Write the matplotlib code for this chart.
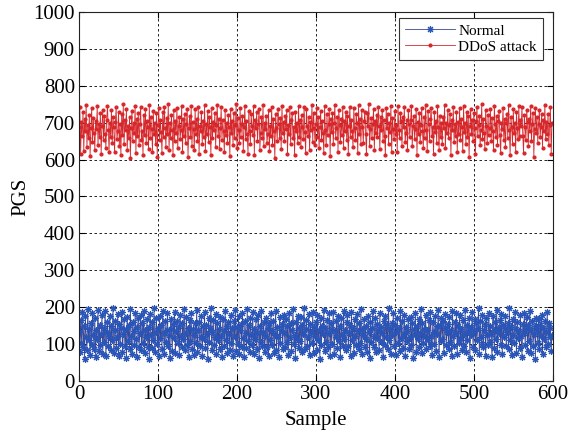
import numpy as np
import matplotlib
matplotlib.use("Agg")
import matplotlib.pyplot as plt

plt.rcParams["font.family"] = ["Liberation Serif", "DejaVu Serif"]

# PGS per sample (estimated)
normal = [
    132, 78, 165, 104, 187, 92, 148, 61, 175, 120, 83, 196, 110, 142, 70, 158, 99, 183, 126, 88,
    171, 64, 139, 115, 192, 81, 153, 97, 128, 178, 73, 145, 106, 189, 67, 134, 160, 94, 121, 176,
    85, 149, 112, 198, 76, 137, 163, 90, 118, 181, 69, 155, 101, 143, 186, 79, 127, 168, 95, 140,
    62, 174, 108, 151, 87, 194, 123, 72, 161, 135, 98, 184, 114, 66, 147, 170, 91, 130, 179, 84,
    156, 103, 190, 75, 138, 119, 167, 93, 146, 60, 182, 125, 89, 159, 111, 197, 80, 133, 172, 100,
    144, 68, 177, 116, 152, 86, 191, 129, 74, 162, 107, 139, 185, 96, 124, 63, 169, 141, 82, 154,
    117, 188, 77, 136, 164, 102, 150, 71, 180, 122, 92, 157, 113, 195, 84, 131, 173, 97, 145, 65,
    166, 109, 183, 88, 142, 126, 70, 158, 104, 193, 79, 137, 161, 94, 120, 176, 67, 148, 115, 186,
    90, 153, 128, 61, 171, 106, 144, 199, 83, 132, 165, 99, 118, 181, 73, 156, 110, 140, 87, 174,
    121, 64, 168, 135, 96, 189, 112, 150, 76, 160, 127, 85, 178, 103, 143, 69, 162, 119, 192, 81,
    147, 101, 175, 72, 138, 155, 93, 184, 116, 66, 163, 130, 89, 196, 108, 152, 78, 170, 124, 98,
    186, 74, 141, 114, 167, 86, 129, 179, 62, 149, 105, 191, 95, 134, 159, 80, 122, 172, 91, 145,
    68, 157, 111, 183, 99, 136, 164, 77, 125, 190, 84, 146, 118, 65, 173, 102, 139, 154, 88, 180,
    131, 93, 169, 107, 148, 71, 185, 120, 158, 82, 137, 195, 100, 126, 63, 161, 113, 177, 90, 143,
    109, 174, 79, 152, 128, 197, 87, 140, 166, 96, 119, 182, 70, 155, 133, 104, 188, 75, 147, 123,
    160, 85, 178, 112, 139, 61, 171, 97, 150, 127, 193, 81, 144, 106, 165, 92, 130, 184, 67, 156,
    101, 142, 187, 73, 135, 118, 162, 89, 176, 108, 148, 64, 170, 124, 94, 191, 115, 138, 83, 159,
    179, 95, 131, 153, 69, 186, 110, 145, 77, 167, 121, 98, 181, 136, 86, 157, 103, 194, 72, 141,
    126, 168, 91, 149, 114, 80, 175, 132, 62, 160, 105, 143, 189, 93, 122, 171, 78, 154, 117, 137,
    84, 183, 107, 146, 130, 66, 164, 99, 177, 119, 151, 88, 198, 111, 140, 74, 158, 125, 185, 96,
    152, 71, 134, 172, 102, 145, 82, 190, 116, 163, 90, 128, 179, 68, 147, 109, 136, 167, 86, 120,
    173, 97, 158, 63, 141, 125, 184, 79, 150, 113, 169, 92, 131, 196, 75, 156, 104, 142, 118, 180,
    88, 139, 112, 166, 95, 187, 123, 70, 161, 134, 100, 176, 81, 148, 127, 192, 65, 153, 108, 170,
    115, 162, 76, 144, 181, 98, 132, 155, 87, 174, 106, 138, 67, 189, 121, 94, 159, 129, 183, 73,
    149, 103, 178, 117, 140, 85, 165, 96, 128, 193, 78, 151, 112, 135, 170, 62, 146, 124, 188, 91,
    136, 168, 83, 157, 110, 145, 199, 74, 163, 119, 101, 180, 93, 139, 154, 69, 172, 126, 97, 185,
    107, 150, 127, 64, 175, 138, 89, 161, 114, 192, 80, 143, 131, 166, 99, 182, 72, 152, 120, 144,
    176, 94, 133, 158, 86, 197, 111, 147, 71, 169, 124, 102, 186, 140, 77, 160, 116, 135, 90, 178,
    122, 65, 155, 130, 184, 98, 142, 173, 82, 151, 109, 190, 76, 137, 164, 95, 128, 148, 61, 171,
    139, 104, 167, 88, 152, 121, 179, 73, 145, 115, 162, 93, 134, 187, 100, 157, 118, 143, 81, 126,
]

ddos = [
    688, 742, 615, 701, 664, 730, 623, 709, 676, 748, 634, 693, 657, 721, 610, 684, 739, 648, 712, 671,
    627, 705, 683, 744, 640, 697, 662, 726, 614, 690, 735, 653, 718, 669, 631, 708, 746, 679, 621, 699,
    660, 733, 645, 714, 687, 619, 702, 741, 655, 676, 728, 636, 695, 611, 723, 667, 749, 642, 706, 681,
    738, 625, 692, 659, 716, 604, 685, 731, 650, 700, 673, 744, 617, 711, 663, 727, 638, 696, 742, 654,
    678, 613, 720, 666, 737, 646, 703, 689, 629, 747, 658, 714, 683, 621, 732, 670, 698, 641, 725, 608,
    694, 739, 652, 707, 675, 618, 729, 661, 743, 686, 635, 712, 668, 749, 626, 699, 657, 720, 680, 612,
    733, 649, 704, 672, 740, 630, 691, 715, 656, 679, 746, 620, 709, 663, 724, 644, 697, 737, 607, 686,
    718, 661, 745, 637, 701, 683, 626, 736, 668, 710, 651, 742, 615, 692, 677, 729, 643, 705, 660, 747,
    624, 695, 670, 732, 647, 716, 689, 611, 740, 658, 702, 681, 725, 635, 693, 748, 664, 711, 629, 684,
    741, 653, 707, 676, 619, 734, 666, 698, 645, 721, 687, 609, 738, 672, 705, 640, 727, 659, 694, 750,
    631, 712, 680, 646, 739, 662, 697, 717, 623, 688, 745, 655, 703, 670, 616, 731, 678, 643, 722, 690,
    667, 744, 613, 706, 684, 728, 650, 695, 738, 627, 673, 714, 658, 748, 637, 700, 682, 719, 645, 669,
    735, 622, 691, 665, 742, 638, 710, 677, 603, 724, 686, 651, 737, 696, 659, 713, 628, 746, 671, 701,
    649, 718, 683, 733, 615, 694, 668, 741, 641, 707, 725, 657, 688, 612, 730, 676, 699, 644, 745, 662,
    708, 634, 720, 689, 656, 743, 674, 617, 736, 692, 663, 714, 625, 702, 679, 748, 648, 727, 685, 639,
    697, 740, 660, 715, 630, 687, 732, 653, 705, 671, 618, 744, 681, 639, 722, 666, 695, 737, 610, 709,
    675, 726, 642, 700, 748, 659, 684, 716, 621, 735, 693, 647, 710, 667, 741, 632, 703, 678, 729, 654,
    719, 614, 690, 742, 662, 706, 677, 633, 739, 685, 652, 723, 698, 617, 747, 670, 711, 643, 734, 689,
    645, 703, 730, 668, 614, 725, 691, 749, 636, 682, 713, 658, 697, 738, 626, 705, 673, 720, 661, 743,
    692, 628, 716, 679, 735, 650, 708, 664, 611, 740, 686, 722, 641, 699, 674, 746, 620, 712, 683, 655,
    731, 669, 694, 620, 744, 681, 657, 727, 703, 636, 715, 688, 742, 648, 672, 706, 625, 733, 695, 660,
    708, 744, 636, 690, 719, 655, 683, 737, 613, 701, 668, 725, 647, 694, 739, 676, 630, 714, 659, 748,
    679, 622, 732, 697, 651, 710, 740, 665, 688, 616, 729, 675, 703, 644, 745, 687, 627, 718, 662, 699,
    641, 716, 685, 747, 630, 700, 673, 734, 657, 693, 723, 612, 707, 680, 741, 648, 696, 664, 728, 619,
    702, 668, 739, 654, 711, 688, 624, 745, 675, 698, 642, 730, 661, 717, 606, 691, 736, 670, 708, 650,
    727, 686, 615, 703, 742, 663, 694, 719, 638, 681, 749, 656, 709, 673, 628, 735, 690, 645, 721, 667,
    684, 737, 651, 712, 676, 627, 744, 695, 660, 718, 639, 703, 731, 666, 617, 699, 682, 740, 653, 710,
    634, 700, 724, 658, 747, 679, 611, 715, 689, 643, 736, 671, 698, 620, 729, 685, 656, 744, 664, 706,
    691, 742, 665, 618, 720, 687, 653, 733, 701, 637, 711, 678, 746, 649, 695, 726, 608, 683, 739, 672,
    714, 646, 697, 735, 660, 689, 722, 631, 707, 676, 748, 655, 702, 668, 724, 639, 693, 741, 614, 700,
]

samples = np.arange(len(normal))

fig = plt.figure(figsize=(5.77, 4.37), dpi=100)
ax = fig.add_axes([0.137, 0.128, 0.821, 0.845])

# MATLAB-style '*' marker: asterisk with 8 spokes
ax.plot(samples, normal, linestyle="-", color="#3a4690", lw=0.6,
        marker=(8, 2, 0), mfc="#2a55b8", mec="#2a55b8", ms=5, mew=0.8,
        label="Normal")
ax.plot(samples, ddos, linestyle="-", color="#d42a2e", lw=0.6,
        marker=".", mfc="#d8262a", mec="#d8262a", ms=4, label="DDoS attack")

ax.set_xlim(0, 600)
ax.set_ylim(0, 1000)
ax.set_xticks(range(0, 601, 100))
ax.set_yticks(range(0, 1001, 100))
ax.grid(True, color="black", linestyle=(0, (3, 3)), lw=0.6)
ax.tick_params(direction="in", top=True, right=True, length=4, labelsize=15, pad=3)
for s in ax.spines.values():
    s.set_linewidth(0.8)
    s.set_color("#222222")

ax.set_xlabel("Sample", fontsize=15, labelpad=5)
ax.set_ylabel("PGS", fontsize=15, labelpad=2)

leg = ax.legend(loc="upper right", bbox_to_anchor=(0.992, 1.0), fontsize=11,
                fancybox=False, framealpha=1, edgecolor="#333333",
                borderaxespad=0.4, handlelength=3.3, handletextpad=0.2,
                borderpad=0.4, labelspacing=0.15)
leg.get_frame().set_linewidth(0.8)

fig.savefig("out.png", dpi=100)
